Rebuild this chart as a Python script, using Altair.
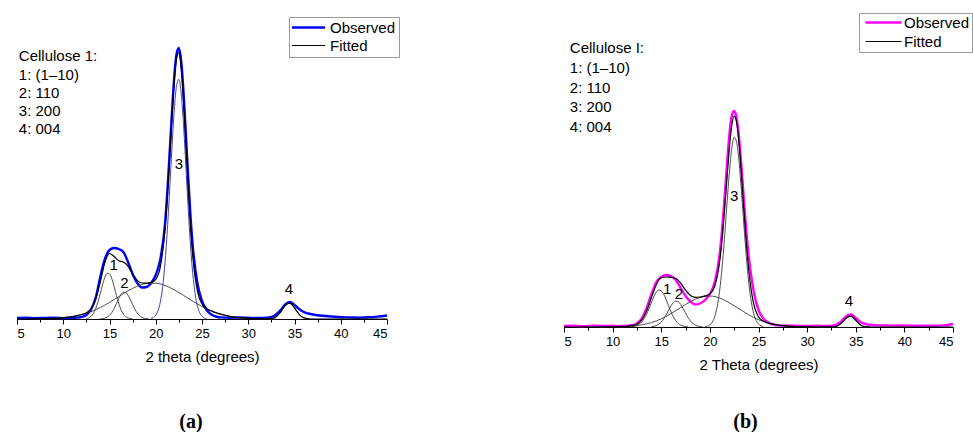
import altair as alt
import pandas as pd

# ---------------- values ----------------
X_T = [5, 6, 7, 8, 9, 10, 10.5, 11, 11.5, 12, 12.5, 13, 13.5, 14, 14.5, 15, 15.5, 16,
       16.5, 17, 17.5, 18, 18.5, 19, 19.5, 20, 20.5, 21, 21.25, 21.5, 21.75, 22, 22.25,
       22.5, 22.75, 23, 23.25, 23.5, 23.75, 24, 24.5, 25, 25.5, 26, 26.5, 27, 28, 29, 30,
       31, 32, 32.5, 33, 33.5, 34, 34.5, 35, 35.5, 36, 36.5, 37, 38, 39, 40, 41, 42, 43, 44, 45]

OBS_A = [1.0, 1.3, 0.9, 1.1, 1.2, 0.9,
         1.0, 1.2, 1.4, 2.2, 4.0, 9.5, 21, 42, 60, 69, 71, 70, 67, 57, 45, 36, 31.5, 32, 36, 44, 60, 95,
         127, 166, 206, 242, 265, 271, 258, 227, 186, 143, 104, 73,
         36, 18, 9, 4.5, 2.5, 1.6,
         1.3, 1.5, 1.2, 1.0, 1.3,
         2.0, 4.5, 9.0, 14.5, 17.0, 14.0, 10.0, 7.0, 5.5, 4.5,
         3.2, 2.5, 1.8, 1.6, 1.4, 1.7, 2.4, 3.5]
FIT_A = [0.0, 0.0, 0.1, 0.3, 0.6, 1.2,
         1.8, 2.4, 3.3, 4.5, 6.2, 10.1, 19.6, 37.0, 56.4, 65.5, 62.5, 58.3, 57.0, 52.9, 45.0, 38.6,
         36.0, 35.9, 36.6, 39.6, 52.3, 89.5,
         121.2, 160.1, 201.4, 237.8, 261.3, 266.1, 250.6, 218.3, 176.2, 132.6, 93.7, 63.3,
         28.1, 15.1, 10.5, 8.1, 6.3, 4.9,
         2.7, 1.4, 0.7, 0.3, 0.1,
         0.5, 2.2, 7.0, 13.6, 15.8, 11.1, 4.7, 1.2, 0.2, 0.0,
         0, 0, 0, 0, 0, 0, 0, 0]
OBS_B = [1.0, 1.3, 0.8, 1.4, 1.0, 1.2,
         0.9, 1.0, 1.2, 1.8, 3.5, 8.5, 19, 33, 45, 50, 52, 51, 47, 39, 31, 25.5, 22.5, 23.5, 27, 33, 45, 72,
         97, 128, 161, 192, 211, 216, 209, 189, 160, 127, 96, 70,
         36, 17, 8.5, 4.5, 2.5, 1.6,
         1.3, 1.2, 1.0, 1.2, 1.1,
         1.4, 2.5, 5.5, 10.5, 12.5, 9.0, 5.0, 3.0, 2.2, 1.9,
         1.6, 1.4, 1.5, 1.3, 1.4, 1.3, 1.6, 3.0]
FIT_B = [0, 0, 0, 0, 0, 0.1,
         0.2, 0.4, 0.7, 1.3, 2.9, 7.2, 16.2, 29.7, 42.6, 49.2, 50.0, 49.6, 48.5, 43.9, 36.8, 31.5,
         29.7, 30.0, 31.1, 33.1, 40.8, 65.1,
         87.0, 115.5, 147.6, 178.4, 201.4, 211.0, 204.5, 183.4, 151.9, 116.8, 83.8, 56.5,
         23.3, 10.3, 5.9, 3.9, 2.8, 1.9,
         0.8, 0.3, 0.1, 0.0, 0.0,
         0.1, 0.7, 3.6, 8.8, 10.9, 6.7, 2.1, 0.3, 0.0, 0.0,
         0, 0, 0, 0, 0, 0, 0, 0]

# fitted components
X_P1A = [12.5, 12.75, 13, 13.25, 13.5, 13.75, 14, 14.25, 14.5, 14.75, 15, 15.25, 15.5,
         15.75, 16, 16.25, 16.5, 16.75, 17, 17.25, 17.5]
P1_A = [0.5, 1.2, 2.8, 5.6, 10.3, 17.0, 25.4, 34.2, 41.6, 45.6, 45.2, 40.3, 32.5, 23.6,
        15.5, 9.2, 4.9, 2.4, 1.0, 0.4, 0.1]
X_P1B = [12, 12.25, 12.5, 12.75, 13, 13.25, 13.5, 13.75, 14, 14.25, 14.5, 14.75, 15, 15.25,
         15.5, 15.75, 16, 16.25, 16.5, 16.75, 17, 17.25, 17.5, 17.75]
P1_B = [0.3, 0.7, 1.4, 2.8, 5.0, 8.4, 13.0, 18.7, 24.9, 30.7, 35.0, 36.9, 36.1, 32.7, 27.3,
        21.2, 15.2, 10.1, 6.2, 3.5, 1.9, 0.9, 0.4, 0.2]
X_P2 = [14, 14.25, 14.5, 14.75, 15, 15.25, 15.5, 15.75, 16, 16.25, 16.5, 16.75, 17, 17.25,
        17.5, 17.75, 18, 18.25, 18.5, 18.75, 19, 19.25]
P2_A = [0.1, 0.4, 0.9, 1.9, 3.7, 6.5, 10.5, 15.4, 20.4, 24.5, 26.8, 26.5, 23.8, 19.4, 14.3,
        9.6, 5.8, 3.2, 1.6, 0.7, 0.3, 0.1]
P2_B = [0.3, 0.7, 1.4, 2.8, 4.9, 8.1, 12.1, 16.7, 21.1, 24.4, 26.0, 25.3, 22.6, 18.5, 13.9,
        9.6, 6.1, 3.5, 1.9, 0.9, 0.4, 0.2]
X_BR = [7, 8, 9, 10, 11, 12, 13, 14, 15, 16, 17, 18, 19, 20, 21, 22, 23, 24, 25, 26, 27,
        28, 29, 30, 31, 32, 33]
BR_A = [0.1, 0.3, 0.6, 1.2, 2.4, 4.4, 7.3, 11.5, 16.6, 22.4, 28.1, 32.8, 35.5, 35.8, 33.5,
        29.2, 23.6, 17.8, 12.4, 8.1, 4.9, 2.7, 1.4, 0.7, 0.3, 0.1, 0.05]
BR_B = [0.0, 0.0, 0.0, 0.1, 0.4, 1.0, 2.2, 4.5, 8.2, 13.3, 19.4, 25.4, 29.6, 31.0, 29.0,
        24.3, 18.2, 12.2, 7.3, 3.9, 1.9, 0.8, 0.3, 0.1, 0.0, 0.0, 0.0]
X_P3 = [19.5, 19.75, 20, 20.25, 20.5, 20.75, 21, 21.25, 21.5, 21.75, 22, 22.25, 22.5, 22.75,
        23, 23.25, 23.5, 23.75, 24, 24.25, 24.5, 24.75, 25, 25.25, 25.5]
P3_A = [0.6, 1.6, 3.8, 8.4, 17.3, 32.5, 56.0, 88.6, 128.5, 171.0, 208.6, 233.4, 239.6, 225.5,
        194.7, 154.1, 111.9, 74.5, 45.5, 25.5, 13.1, 6.2, 2.7, 1.1, 0.4]
P3_B = [0.3, 0.8, 2.1, 4.9, 10.4, 20.2, 36.1, 59.0, 88.6, 122.0, 154.1, 178.6, 189.7, 184.8,
        165.2, 135.3, 101.7, 70.2, 44.3, 25.7, 13.7, 6.7, 3.0, 1.2, 0.5]
X_P4 = [32.5, 32.75, 33, 33.25, 33.5, 33.75, 34, 34.25, 34.5, 34.75, 35, 35.25, 35.5, 35.75,
        36, 36.25, 36.5]
P4_A = [0.4, 1.0, 2.2, 4.2, 7.0, 10.4, 13.6, 15.6, 15.8, 14.1, 11.1, 7.7, 4.7, 2.5, 1.2, 0.5, 0.2]
P4_B = [0.1, 0.3, 0.7, 1.8, 3.6, 6.1, 8.8, 10.7, 10.9, 9.3, 6.7, 4.0, 2.1, 0.9, 0.3, 0.1, 0.0]

SERIES = ["Observed", "Fitted"]
COMPONENTS = ["1", "2", "amorphous", "3", "4"]

MAJOR_TICKS = [5, 10, 15, 20, 25, 30, 35, 40, 45]
MINOR_TICKS = [7.5, 12.5, 17.5, 22.5, 27.5, 32.5, 37.5, 42.5]

NOTES_A = ["Cellulose 1:", "1: (1\u201310)", "2: 110", "3: 200", "4: 004"]
NOTES_B = ["Cellulose I:", "1: (1\u201310)", "2: 110", "3: 200", "4: 004"]
NOTE_X_A = 5.2
NOTE_Y_A = [263, 244, 226, 208, 190]
NOTE_X_B = 5.6
NOTE_Y_B = [279, 259, 239, 220, 200]

PEAK_TEXT = ["1", "2", "3", "4"]
PEAK_X_A = [15.45, 16.6, 22.5, 34.4]
PEAK_Y_A = [54, 36, 155, 30]
PEAK_X_B = [15.6, 16.83, 22.5, 34.3]
PEAK_Y_B = [38, 33, 131, 26]

FONT = "Liberation Sans"


def panel(obs, fit, comps, obs_color, comp_colors, width, height, notes, note_x, note_y,
          peak_x, peak_y, xtitle, tag, tag_dx, tag_offset, leg):
    n = len(X_T)
    obs_df = pd.DataFrame({"x": X_T, "y": obs, "series": [SERIES[0]] * n})
    fit_df = pd.DataFrame({"x": X_T, "y": fit, "series": [SERIES[1]] * n})
    rows = []
    for name, xs_, ys_ in comps:
        rows += [{"x": a, "y": b, "comp": name} for a, b in zip(xs_, ys_)]
    comp_df = pd.DataFrame(rows)
    note_df = pd.DataFrame({"x": [note_x] * len(notes), "y": note_y, "t": notes})
    peak_df = pd.DataFrame({"x": peak_x, "y": peak_y, "t": PEAK_TEXT})

    xs = alt.Scale(domain=[5, 45], nice=False, zero=False)
    ys = alt.Scale(domain=[0, height], nice=False, zero=True)
    x_plain = alt.X("x:Q", scale=xs, axis=None)
    y_plain = alt.Y("y:Q", scale=ys, axis=None)

    legend = alt.Legend(title=None, orient="none", legendX=leg["x"], legendY=leg["y"],
                        symbolType=leg["path"], symbolSize=leg["size"],
                        symbolOffset=leg["soff"], labelOffset=leg["loff"],
                        padding=leg["pad"], rowPadding=leg["rowpad"],
                        strokeColor="#9a9a9a", fillColor="white", labelFont=FONT,
                        labelFontSize=15, labelColor="black", labelLimit=200)
    color = alt.Color("series:N", scale=alt.Scale(domain=SERIES, range=[obs_color, "black"]),
                      legend=legend)
    width_enc = alt.StrokeWidth("series:N",
                                scale=alt.Scale(type="ordinal", domain=SERIES, range=[2.4, 1.2]),
                                legend=legend)

    obs_layer = alt.Chart(obs_df).mark_line(interpolate="monotone").encode(
        x=alt.X("x:Q", scale=xs,
                axis=alt.Axis(values=MAJOR_TICKS, title=xtitle, format="d", tickSize=5,
                              labelPadding=3, titlePadding=9, grid=False, orient="bottom")),
        y=y_plain, color=color, strokeWidth=width_enc)
    comp_layer = alt.Chart(comp_df).mark_line(interpolate="monotone", strokeWidth=0.9).encode(
        x=x_plain, y=y_plain,
        stroke=alt.Stroke("comp:N", scale=alt.Scale(domain=COMPONENTS, range=comp_colors),
                          legend=None),
        detail="comp:N")
    fit_layer = alt.Chart(fit_df).mark_line(interpolate="monotone").encode(
        x=x_plain, y=y_plain, color=color, strokeWidth=width_enc)
    note_layer = alt.Chart(note_df).mark_text(
        align="left", baseline="middle", font=FONT, fontSize=15, color="black"
    ).encode(x=x_plain, y=y_plain, text="t:N")
    peak_layer = alt.Chart(peak_df).mark_text(
        align="center", baseline="middle", font=FONT, fontSize=15, color="black"
    ).encode(
        x=alt.X("x:Q", scale=xs,
                axis=alt.Axis(values=MINOR_TICKS, labels=False, tickSize=3, domain=False,
                              title=None, grid=False, orient="bottom")),
        y=y_plain, text="t:N")
    return alt.layer(obs_layer, comp_layer, fit_layer, note_layer, peak_layer).resolve_axis(
        x="independent"
    ).properties(
        width=width, height=height,
        title=alt.TitleParams(tag, orient="bottom", anchor="middle", font="Liberation Serif",
                              fontSize=20, fontWeight="bold", color="black",
                              offset=tag_offset, dx=tag_dx))


GRAY = "#3a3a3a"
pa = panel(OBS_A, FIT_A,
           [("1", X_P1A, P1_A), ("2", X_P2, P2_A), ("amorphous", X_BR, BR_A),
            ("3", X_P3, P3_A), ("4", X_P4, P4_A)],
           "#0000ff", [GRAY, GRAY, GRAY, "#2b2ba6", GRAY], 370, 298,
           NOTES_A, NOTE_X_A, NOTE_Y_A, PEAK_X_A, PEAK_Y_A, "2 theta (degrees)", "(a)", -11, 48,
           dict(x=272, y=-4, path="M-3,0H3", size=121, soff=9, loff=14, pad=3, rowpad=2))
pb = panel(OBS_B, FIT_B,
           [("1", X_P1B, P1_B), ("2", X_P2, P2_B), ("amorphous", X_BR, BR_B),
            ("3", X_P3, P3_B), ("4", X_P4, P4_B)],
           "#ff00ff", [GRAY, GRAY, GRAY, GRAY, GRAY], 389, 306,
           NOTES_B, NOTE_X_B, NOTE_Y_B, PEAK_X_B, PEAK_Y_B, "2 Theta (degrees)", "(b)", -13, 40,
           dict(x=295, y=-8, path="M-3,0H3", size=144, soff=15, loff=13, pad=2, rowpad=3))

chart = alt.hconcat(pa, pb, spacing=177, bounds="flush").resolve_scale(
    color="independent", strokeWidth="independent", stroke="independent"
).properties(
    padding={"left": 12, "top": 12, "right": 0, "bottom": 0}
).configure_view(stroke=None).configure_axis(
    labelFont=FONT, titleFont=FONT, labelFontSize=13, titleFontSize=15,
    titleFontWeight="normal", labelColor="black", titleColor="black",
    domainColor="black", tickColor="black", domainWidth=1, tickWidth=1
)

chart.save("out.html", embed_options={"renderer": "svg", "actions": False})
